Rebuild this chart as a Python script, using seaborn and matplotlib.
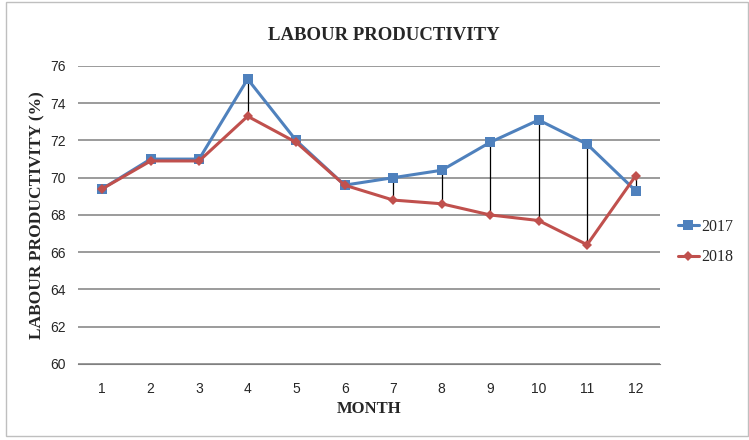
import numpy as np
import pandas as pd
import seaborn as sns
import matplotlib.pyplot as plt
from matplotlib.patches import Rectangle

# values
months = [1, 2, 3, 4, 5, 6, 7, 8, 9, 10, 11, 12]
prod_2017 = [69.4, 71.0, 71.0, 75.3, 72.0, 69.6, 70.0, 70.4, 71.9, 73.1, 71.8, 69.3]
prod_2018 = [69.4, 70.9, 70.9, 73.3, 71.9, 69.6, 68.8, 68.6, 68.0, 67.7, 66.4, 70.1]
years = ['2017', '2018']
y_ticks = [60, 62, 64, 66, 68, 70, 72, 74, 76]

df = pd.DataFrame({
    'month': months * 2,
    'value': prod_2017 + prod_2018,
    'year': [years[0]] * 12 + [years[1]] * 12,
})

sns.set_style('white')
plt.rcParams['font.family'] = ['Liberation Serif', 'DejaVu Serif']

fig = plt.figure(figsize=(7.49, 4.4), dpi=100)
ax = fig.add_axes([0.104, 0.173, 0.777, 0.677])

# high-low lines between the two years
ax.vlines(months, prod_2018, prod_2017, color='black', lw=0.9, zorder=2)

sns.lineplot(data=df, x='month', y='value', hue='year', style='year',
             palette={'2017': '#4F81BD', '2018': '#C0504D'},
             markers={'2017': 's', '2018': 'D'}, dashes=False,
             markersize=7, lw=2.2, markeredgewidth=0, ax=ax, zorder=3)
# make the diamond smaller like the excel one
for ln in ax.lines:
    if ln.get_marker() == 'D':
        ln.set_markersize(5)

ax.set_xlim(0.5, 12.5)
ax.set_ylim(60, 76)
ax.set_xticks(months)
ax.set_yticks(y_ticks)
ax.yaxis.grid(True, color='#808080', lw=1.1)
ax.xaxis.grid(False)
for s in ['top', 'right', 'left']:
    ax.spines[s].set_visible(False)
ax.spines['bottom'].set_color('#808080')
ax.tick_params(axis='both', length=0, labelsize=10)
ax.tick_params(axis='x', pad=13)
ax.tick_params(axis='y', pad=9)
for lab in ax.get_xticklabels() + ax.get_yticklabels():
    lab.set_fontfamily(['Liberation Sans Narrow', 'Liberation Sans', 'DejaVu Sans'])

ax.set_xlabel('MONTH', fontsize=12, fontweight='bold', labelpad=4)
ax.set_ylabel('LABOUR PRODUCTIVITY (%)', fontsize=12.5, fontweight='bold', labelpad=3)
fig.text(0.512, 0.92, 'LABOUR PRODUCTIVITY', ha='center', va='center',
         fontsize=13.5, fontweight='bold')

handles, labels = ax.get_legend_handles_labels()
ax.legend(handles, labels, loc='center left', bbox_to_anchor=(0.905, 0.45),
          bbox_transform=fig.transFigure, frameon=False, fontsize=11.5,
          handlelength=1.3, handletextpad=0.15, labelspacing=0.9,
          borderpad=0, borderaxespad=0)

# outer chart border
fig.patches.append(Rectangle((0.008, 0.01), 0.99, 0.985, transform=fig.transFigure,
                             fill=False, edgecolor='#bfbfbf', lw=1))

fig.savefig('out.png', dpi=100)
